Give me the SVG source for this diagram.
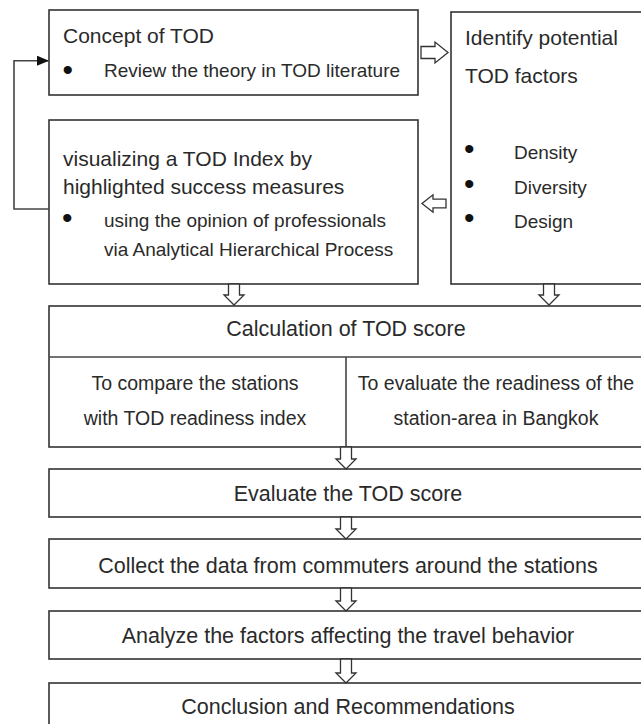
<svg xmlns="http://www.w3.org/2000/svg" width="641" height="724" viewBox="0 0 641 724">
<defs>
<style>
.box{fill:#fff;stroke:#333;stroke-width:1.6}
.t{font-family:"Liberation Sans",Arial,sans-serif;font-size:21px;fill:#2a2a2a}
.m{font-family:"Liberation Sans",Arial,sans-serif;font-size:21.5px;fill:#2a2a2a}
.s{font-family:"Liberation Sans",Arial,sans-serif;font-size:19px;fill:#2a2a2a}
.s2{font-family:"Liberation Sans",Arial,sans-serif;font-size:19.5px;fill:#2a2a2a}
.b{font-family:"Liberation Sans",Arial,sans-serif;font-size:30px;fill:#111}
.c{text-anchor:middle}
.arr{fill:#fff;stroke:#333;stroke-width:1.3;stroke-linejoin:miter}
.line{fill:none;stroke:#444;stroke-width:1.6}
</style>
<marker id="ah" markerWidth="12" markerHeight="10" refX="11" refY="5" orient="auto" markerUnits="userSpaceOnUse">
<path d="M0,0 L12,5 L0,10 Z" fill="#111"/>
</marker>
</defs>
<rect width="641" height="724" fill="#fff"/>

<g id="concept">
<rect class="box" x="49" y="10" width="369" height="85"/>
<text class="t" x="63" y="43">Concept of TOD</text>
<text class="b" x="62.5" y="80">•</text>
<text class="s" x="104" y="77">Review the theory in TOD literature</text>
</g>

<g id="identify">
<rect class="box" x="451" y="12" width="196" height="272"/>
<text class="t" x="465" y="45">Identify potential</text>
<text class="t" x="465" y="83">TOD factors</text>
<text class="b" x="464" y="159">•</text>
<text class="s" x="514" y="159">Density</text>
<text class="b" x="464" y="193.5">•</text>
<text class="s" x="514" y="194">Diversity</text>
<text class="b" x="464" y="228">•</text>
<text class="s" x="514" y="228">Design</text>
</g>

<g id="visualizing">
<rect class="box" x="49" y="120" width="369" height="164"/>
<text class="t" x="63" y="166">visualizing a TOD Index by</text>
<text class="t" x="63" y="194">highlighted success measures</text>
<text class="b" x="62" y="228">•</text>
<text class="s" x="104" y="227">using the opinion of professionals</text>
<text class="s" x="104" y="256">via Analytical Hierarchical Process</text>
</g>

<g id="calculation">
<rect class="box" x="49" y="306" width="594" height="141"/>
<line class="line" x1="49" y1="357" x2="643" y2="357"/>
<line class="line" x1="346" y1="357" x2="346" y2="447"/>
<text class="m c" x="346" y="336">Calculation of TOD score</text>
<text class="s2 c" x="195" y="390">To compare the stations</text>
<text class="s2 c" x="496" y="390">To evaluate the readiness of the</text>
<text class="s2 c" x="195" y="425">with TOD readiness index</text>
<text class="s2 c" x="496" y="425">station-area in Bangkok</text>
</g>

<g id="evaluate">
<rect class="box" x="49" y="469" width="594" height="48"/>
<text class="m c" x="348" y="501">Evaluate the TOD score</text>
</g>

<g id="collect">
<rect class="box" x="49" y="539" width="594" height="49"/>
<text class="m c" x="348" y="573">Collect the data from commuters around the stations</text>
</g>

<g id="analyze">
<rect class="box" x="49" y="611" width="594" height="48"/>
<text class="m c" x="348" y="643">Analyze the factors affecting the travel behavior</text>
</g>

<g id="conclusion">
<rect class="box" x="49" y="683" width="594" height="48"/>
<text class="m c" x="348" y="714">Conclusion and Recommendations</text>
</g>

<g id="connectors">
<path class="line" d="M49,209 H14 V60.7 H48" marker-end="url(#ah)"/>
<polygon class="arr" points="421,46.5 435,46.5 435,42 448,52.5 435,63 435,58.5 421,58.5"/>
<polygon class="arr" points="446,199.2 433,199.2 433,194.8 422,203.5 433,212.2 433,207.8 446,207.8"/>
<polygon class="arr" points="228.5,284 239.5,284 239.5,295 244,295 234,305 224,295 228.5,295"/>
<polygon class="arr" points="543.5,284 554.5,284 554.5,295 559,295 549,305 539,295 543.5,295"/>
<polygon class="arr" points="340.5,447 351.5,447 351.5,459 356,459 346,469 336,459 340.5,459"/>
<polygon class="arr" points="340.5,517 351.5,517 351.5,529 356,529 346,539 336,529 340.5,529"/>
<polygon class="arr" points="340.5,588 351.5,588 351.5,601 356,601 346,611 336,601 340.5,601"/>
<polygon class="arr" points="340.5,659 351.5,659 351.5,673 356,673 346,683 336,673 340.5,673"/>
</g>
</svg>
